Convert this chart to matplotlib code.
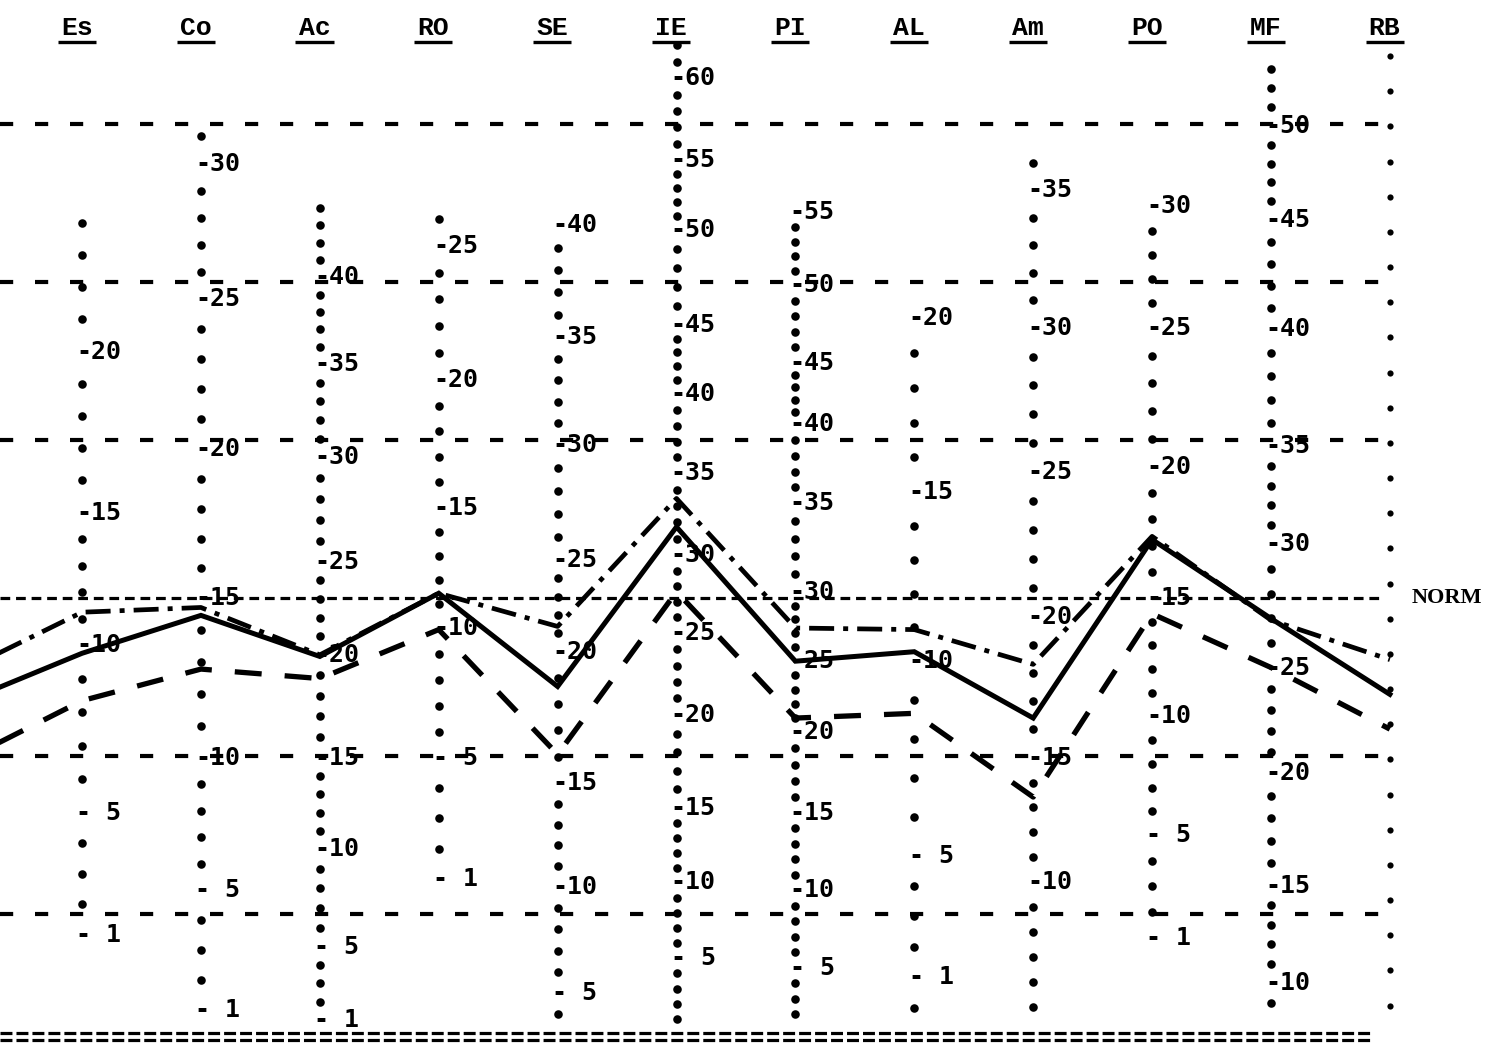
import numpy as np
import matplotlib
matplotlib.use("Agg")
import matplotlib.pyplot as plt

plt.rcParams['lines.scale_dashes'] = False

# ---------------- data ----------------
scales = ["Es", "Co", "Ac", "RO", "SE", "IE", "PI", "AL", "Am", "PO", "MF", "RB"]
# T-score profile values; the first value belongs to the cut-off scale left of "Es"
solid_T   = [43.4, 46.5, 48.9, 46.3, 50.3, 44.4, 54.5, 46.0, 46.6, 42.4, 53.7, 48.7, 43.9]
dashdot_T = [45.4, 49.1, 49.4, 46.4, 50.3, 48.2, 56.3, 48.1, 48.0, 45.8, 53.9, 48.6, 46.1]
dashed_T  = [39.7, 43.5, 45.5, 44.9, 48.0, 40.1, 50.4, 42.4, 42.7, 37.4, 49.0, 45.6, 41.7]

grid_T = [80, 70, 60, 40, 30]
norm_T = 50

# raw-score ticks on each scale column: labelled raw values and their T position
es_raw = [20, 15, 10, 5, 1];            es_T = [65.6, 55.4, 47.0, 36.4, 28.7]
co_raw = [30, 25, 20, 15, 10, 5, 1];    co_T = [77.5, 68.9, 59.4, 50.0, 39.9, 31.5, 23.9]
ac_raw = [40, 35, 30, 25, 20, 15, 10, 5, 1]
ac_T   = [70.3, 64.8, 58.9, 52.3, 46.4, 39.9, 34.1, 27.9, 23.3]
ro_raw = [25, 20, 15, 10, 5, 1];        ro_T = [72.3, 63.8, 55.7, 48.1, 39.9, 32.2]
se_raw = [40, 35, 30, 25, 20, 15, 10, 5]
se_T   = [73.6, 66.5, 59.7, 52.4, 46.6, 38.3, 31.7, 25.0]
ie_raw = [60, 55, 50, 45, 40, 35, 30, 25, 20, 15, 10, 5]
ie_T   = [82.9, 77.7, 73.3, 67.3, 62.9, 57.9, 52.7, 47.8, 42.6, 36.7, 32.0, 27.2]
pi_raw = [55, 50, 45, 40, 35, 30, 25, 20, 15, 10, 5]
pi_T   = [74.4, 69.8, 64.9, 61.0, 56.0, 50.4, 46.0, 41.5, 36.4, 31.5, 26.6]
al_raw = [20, 15, 10, 5, 1];            al_T = [67.7, 56.7, 46.0, 33.7, 26.0]
am_raw = [35, 30, 25, 20, 15, 10];      am_T = [75.8, 67.1, 58.0, 48.8, 39.9, 32.0]
po_raw = [30, 25, 20, 15, 10, 5, 1];    po_T = [74.8, 67.1, 58.3, 50.0, 42.5, 35.0, 28.5]
mf_raw = [50, 45, 40, 35, 30, 25, 20, 15, 10]
mf_T   = [79.9, 73.9, 67.0, 59.6, 53.4, 45.6, 38.9, 31.8, 25.6]

# raw score range covered by the dotted column of each scale
dot_range = {"Es": (1, 24), "Co": (1, 31), "Ac": (1, 44), "RO": (1, 26),
             "SE": (4, 40), "IE": (1, 62), "PI": (2, 55), "AL": (0, 20),
             "Am": (5, 36), "PO": (1, 30), "MF": (9, 53)}
rb_top_T, rb_bottom_T, rb_count = 84.3, 24.2, 28

ticks = {"Es": (es_raw, es_T), "Co": (co_raw, co_T), "Ac": (ac_raw, ac_T),
         "RO": (ro_raw, ro_T), "SE": (se_raw, se_T), "IE": (ie_raw, ie_T),
         "PI": (pi_raw, pi_T), "AL": (al_raw, al_T), "Am": (am_raw, am_T),
         "PO": (po_raw, po_T), "MF": (mf_raw, mf_T)}

# ---------------- figure ----------------
fig = plt.figure(figsize=(15.02, 10.47), dpi=100)
ax = fig.add_axes([0, 0, 1, 1])
ax.set_xlim(0.310, 12.943)
ax.set_ylim(21.58, 87.85)
ax.axis("off")

x_left, x_right = 0.31, 11.96

# horizontal reference lines
for t in grid_T:
    ax.plot([x_left, x_right], [t, t], color="black", lw=3.0,
            dashes=(9.5, 15.7), zorder=1)
ax.plot([x_left, 11.92], [norm_T, norm_T], color="black", lw=2.3,
        dashes=(7.0, 4.2), zorder=1)
for t in (22.47, 22.0):
    ax.plot([x_left, 11.86], [t, t], color="black", lw=2.3,
            dashes=(8.6, 2.9), zorder=1)

mono = "DejaVu Sans Mono"

def extrap(raw, r, t):
    r = np.asarray(r, float)[::-1]
    t = np.asarray(t, float)[::-1]
    if raw < r[0]:
        s = (t[1] - t[0]) / (r[1] - r[0])
        return t[0] + (raw - r[0]) * s
    if raw > r[-1]:
        s = (t[-1] - t[-2]) / (r[-1] - r[-2])
        return t[-1] + (raw - r[-1]) * s
    return np.interp(raw, r, t)

# scale columns
for i, name in enumerate(scales, start=1):
    if name == "RB":
        ys = np.linspace(rb_top_T, rb_bottom_T, rb_count)
        ax.scatter(np.full_like(ys, i), ys, s=20, color="black", zorder=2,
                   linewidths=0)
        continue
    r, t = ticks[name]
    lo, hi = dot_range[name]
    ys = [extrap(v, r, t) for v in range(lo, hi + 1) if v not in r]
    ax.scatter(np.full(len(ys), i), ys, s=38, color="black", zorder=2,
               linewidths=0, marker="o")
    for v, tv in zip(r, t):
        lab = "-%d" % v if v >= 10 else "- %d" % v
        ax.text(i - 0.048, tv, lab, ha="left", va="center", fontsize=18,
                family=mono, fontweight="bold", zorder=3)

# header labels with underline
for i, name in enumerate(scales, start=1):
    ax.text(i - 0.045, 86.1, name, ha="center", va="center", fontsize=19,
            family="Liberation Mono", fontweight="bold")
    ax.plot([i - 0.045 - 0.16, i - 0.045 + 0.16], [85.2, 85.2], color="black",
            lw=2.4, solid_capstyle="butt")

ax.text(12.48, norm_T, "NORM", ha="center", va="center", fontsize=16,
        family="Liberation Serif", fontweight="bold")

# profile lines
xs = np.arange(len(solid_T))
ax.plot(xs, solid_T, color="black", lw=3.6, solid_joinstyle="miter", zorder=4)
ax.plot(xs, dashdot_T, color="black", lw=3.4, dashes=(18, 6.5, 3.6, 6.5), zorder=4)
ax.plot(xs, dashed_T, color="black", lw=3.8, dashes=(19.4, 16.6), zorder=4)

fig.savefig("out.png", dpi=100, facecolor="white")
